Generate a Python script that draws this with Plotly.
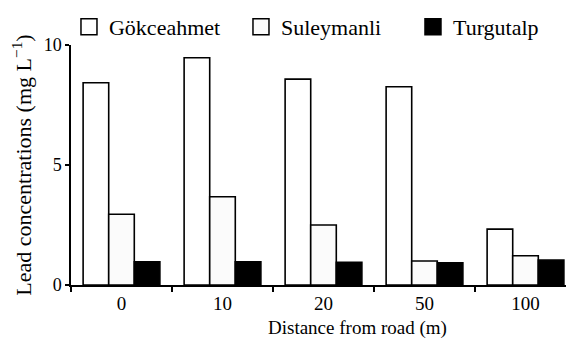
import plotly.graph_objects as go

categories = ["0", "10", "20", "50", "100"]
gokceahmet = [8.43, 9.47, 8.58, 8.26, 2.33]
suleymanli = [2.95, 3.68, 2.50, 1.00, 1.22]
turgutalp = [0.97, 0.97, 0.95, 0.93, 1.04]
series_names = ["Gökceahmet", "Suleymanli", "Turgutalp"]
fills = ["white", "#fbfbfb", "black"]

FONT = "Liberation Serif"
fig = go.Figure()
for name, vals, fc in zip(series_names, [gokceahmet, suleymanli, turgutalp], fills):
    fig.add_trace(go.Bar(
        x=categories, y=vals, name=name, showlegend=False,
        marker=dict(color=fc, line=dict(color="black", width=1.6)),
    ))
    # legend entries with larger square symbols
    fig.add_trace(go.Scatter(
        x=[None], y=[None], mode="markers", name=name,
        marker=dict(symbol="square", size=22, color=fc,
                    line=dict(color="black", width=1.5)),
    ))

# the page adds an 8px body margin, so margins are compensated for it
fig.update_layout(
    width=574, height=342,
    margin=dict(l=63, r=6, t=37, b=65, autoexpand=False),
    paper_bgcolor="white", plot_bgcolor="white",
    barmode="group", bargap=0.24, bargroupgap=0,
    font=dict(family=FONT, size=18, color="black"),
    legend=dict(orientation="h", x=-0.004, xanchor="left", y=1.075, yanchor="middle",
                font=dict(size=22), itemsizing="trace", bgcolor="rgba(0,0,0,0)",
                entrywidth=127, entrywidthmode="pixels"),
    xaxis=dict(
        type="category", range=[-0.5, 4.5], automargin=False,
        showline=True, linecolor="black", linewidth=1.5,
        ticks="outside", tickson="boundaries", ticklen=5, tickwidth=1.5, tickcolor="black",
        tickfont=dict(size=19), showgrid=False, zeroline=False,
    ),
    yaxis=dict(
        range=[0, 10], tickvals=[0, 5, 10], automargin=False,
        showline=True, linecolor="black", linewidth=1.5,
        ticks="outside", ticklen=4, tickwidth=1.5, tickcolor="black",
        tickfont=dict(size=18), showgrid=False, zeroline=False,
        title=dict(text="Lead concentrations (mg L<sup>−1</sup>)", font=dict(size=22), standoff=11),
    ),
    annotations=[dict(
        text="Distance from road (m)", xref="paper", yref="paper",
        x=0.568, y=0, yshift=-43, xanchor="center", yanchor="middle",
        showarrow=False, font=dict(size=19),
    )],
)

fig.write_html("out.html")
